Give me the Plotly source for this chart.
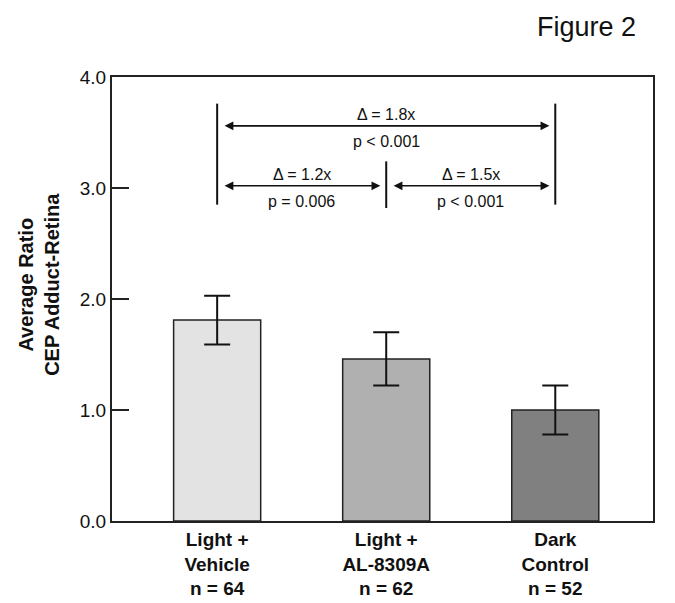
import plotly.graph_objects as go

# ---- data ----
categories = ["Light +<br>Vehicle<br>n = 64", "Light +<br>AL-8309A<br>n = 62", "Dark<br>Control<br>n = 52"]
means = [1.81, 1.46, 1.00]
errors = [0.22, 0.24, 0.22]
bar_colors = ["#e3e3e3", "#b0b0b0", "#808080"]

y_ticks = [0, 1, 2, 3, 4]
y_tick_text = ["0.0", "1.0", "2.0", "3.0", "4.0"]

# comparison brackets: (from index, to index, arrow level, delta label, p label)
comparisons = [
    (0, 2, 3.56, "Δ = 1.8x", "p < 0.001"),
    (0, 1, 3.02, "Δ = 1.2x", "p = 0.006"),
    (1, 2, 3.02, "Δ = 1.5x", "p < 0.001"),
]
# vertical bracket lines: (category index, y bottom, y top)
bracket_lines = [(0, 2.85, 3.76), (1, 2.82, 3.24), (2, 2.85, 3.76)]

FONT = "Liberation Sans, Arial, sans-serif"
xs = list(range(len(categories)))

fig = go.Figure()
fig.add_trace(go.Bar(
    x=xs, y=means, width=0.515,
    marker=dict(color=bar_colors, line=dict(color="#222222", width=1.5)),
    error_y=dict(type="data", array=errors, visible=True, color="#111111", thickness=2, width=13),
    showlegend=False,
))

shapes = []
for ci, y0, y1 in bracket_lines:
    shapes.append(dict(type="line", xref="x", yref="y", x0=ci, x1=ci, y0=y0, y1=y1,
                       line=dict(color="#111111", width=2)))

annotations = []
gap = 0.035
for i0, i1, lvl, dtxt, ptxt in comparisons:
    xa = i0 + gap
    xb = i1 - gap
    annotations.append(dict(
        x=xb, y=lvl, ax=xa, ay=lvl, xref="x", yref="y", axref="x", ayref="y",
        text="", showarrow=True, arrowhead=2, arrowside="end+start", arrowsize=1.1,
        arrowwidth=1.6, arrowcolor="#111111", standoff=0, startstandoff=0,
    ))
    xm = (i0 + i1) / 2
    annotations.append(dict(x=xm, y=lvl + 0.10, xref="x", yref="y", text=dtxt, showarrow=False,
                            xanchor="center", yanchor="middle", font=dict(size=16, family=FONT, color="#111111")))
    annotations.append(dict(x=xm, y=lvl - 0.14, xref="x", yref="y", text=ptxt, showarrow=False,
                            xanchor="center", yanchor="middle", font=dict(size=16, family=FONT, color="#111111")))

annotations.append(dict(x=-0.135, y=0.534, xref="paper", yref="paper",
                        text="<b>Average Ratio</b><br><b>CEP Adduct-Retina</b>", textangle=-90,
                        showarrow=False, xanchor="center", yanchor="middle",
                        font=dict(size=20, family=FONT, color="#111111")))
annotations.append(dict(x=0.878, y=1.113, xref="paper", yref="paper", text="Figure 2",
                        showarrow=False, xanchor="center", yanchor="middle",
                        font=dict(size=27, family=FONT, color="#111111")))

fig.update_layout(
    width=675, height=603,
    margin=dict(l=104, r=30, t=69, b=90),
    paper_bgcolor="white", plot_bgcolor="white",
    font=dict(family=FONT, color="#111111"),
    shapes=shapes, annotations=annotations,
    bargap=0.5,
)
fig.update_xaxes(
    range=[-0.622, 2.578], tickmode="array", tickvals=xs, ticktext=categories,
    tickfont=dict(size=19, family=FONT, color="#111111", weight="bold"),
    showgrid=False, zeroline=False, showline=True, linecolor="#222222", linewidth=2,
    mirror=True, ticks="", automargin=False,
)
fig.update_yaxes(
    range=[0, 4], tickmode="array", tickvals=y_ticks, ticktext=y_tick_text,
    tickfont=dict(size=19, family=FONT, color="#111111"),
    showgrid=False, zeroline=False, showline=True, linecolor="#222222", linewidth=2,
    mirror=True, ticks="inside", ticklen=17, tickwidth=2, tickcolor="#222222",
    automargin=False,
)

fig.write_html("out.html")
